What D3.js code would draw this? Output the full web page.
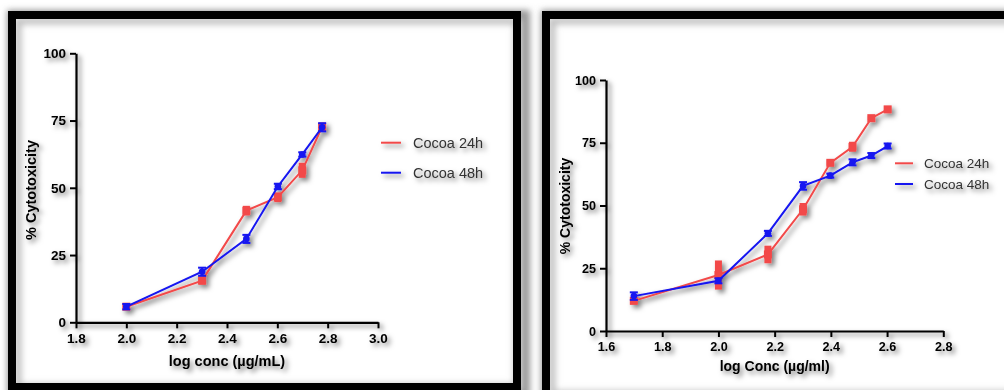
<!DOCTYPE html>
<html><head><meta charset="utf-8">
<script src="https://cdn.jsdelivr.net/npm/d3@7"></script>
<style>body{margin:0;background:#fff}svg{display:block}</style>
</head><body>
<script>
// ---- Data ----
const leftX = [2.0, 2.301, 2.477, 2.602, 2.699, 2.778];
const left24 = [5.8, 15.5, 41.5, 46.5, 56.5, 72.7];
const left24Err = [1.2, 1.5, 1.8, 1.8, 2.8, 1.5];
const left48 = [5.8, 18.8, 31.0, 50.5, 62.4, 72.5];
const left48Err = [1.0, 1.5, 1.5, 1.0, 0.8, 1.5];
const leftXTicks = [1.8, 2.0, 2.2, 2.4, 2.6, 2.8, 3.0];

const rightX = [1.699, 2.0, 2.176, 2.301, 2.398, 2.477, 2.544, 2.602];
const right24 = [12.0, 22.3, 30.5, 48.5, 67.0, 73.4, 84.8, 88.3];
const right24Err = [1.0, 5.8, 3.5, 2.5, 1.0, 2.0, 0.8, 1.3];
const right48 = [13.9, 20.0, 38.9, 57.8, 61.9, 67.2, 69.9, 73.7];
const right48Err = [1.5, 1.0, 1.0, 1.5, 0.8, 1.2, 1.0, 1.0];
const rightXTicks = [1.6, 1.8, 2.0, 2.2, 2.4, 2.6, 2.8];

const yTicks = [0, 25, 50, 75, 100];
const seriesNames = ["Cocoa 24h", "Cocoa 48h"];
const RED = "#f24a4a", BLUE = "#1414f0";

const svg = d3.select("body").append("svg").attr("width", 1004).attr("height", 390);
const defs = svg.append("defs");
const f = defs.append("filter").attr("id", "sh").attr("x", "-20%").attr("y", "-20%").attr("width", "160%").attr("height", "160%");
f.append("feDropShadow").attr("dx", 3).attr("dy", 3).attr("stdDeviation", 2.4).attr("flood-color", "#000").attr("flood-opacity", 0.5);
const fb = defs.append("filter").attr("id", "blur").attr("x", "-10%").attr("y", "-10%").attr("width", "120%").attr("height", "120%");
fb.append("feGaussianBlur").attr("stdDeviation", 3);

// frames
function frame(x0, y0, x1, y1) {
  svg.append("rect").attr("x", x0 + 4).attr("y", y0 + 4).attr("width", x1 - x0).attr("height", y1 - y0)
    .attr("fill", "none").attr("stroke", "#999").attr("stroke-width", 10).attr("filter", "url(#blur)");
  svg.append("rect").attr("x", x0 + 4).attr("y", y0 + 4).attr("width", x1 - x0 - 8).attr("height", y1 - y0 - 8)
    .attr("fill", "#fff");
  svg.append("rect").attr("x", x0 + 10).attr("y", y0 + 10).attr("width", x1 - x0 - 14).attr("height", y1 - y0 - 14)
    .attr("fill", "none").attr("stroke", "#c0c0c0").attr("stroke-width", 7).attr("filter", "url(#blur)");
  svg.append("rect").attr("x", x0 + 4).attr("y", y0 + 4).attr("width", x1 - x0 - 8).attr("height", y1 - y0 - 8)
    .attr("fill", "none").attr("stroke", "#000").attr("stroke-width", 8);
}
frame(8, 11, 521, 391);
frame(542, 11, 1040, 398);

function panel(o) {
  const g = svg.append("g");
  const x = d3.scaleLinear().domain([o.xTicks[0], o.xTicks[o.xTicks.length - 1]]).range([o.left, o.right]);
  const y = d3.scaleLinear().domain([0, 100]).range([o.bottom, o.top]);
  const sh = g.append("g").attr("filter", "url(#sh)");

  const xa = sh.append("g").attr("transform", `translate(0,${o.bottom})`)
    .call(d3.axisBottom(x).tickValues(o.xTicks).tickFormat(d3.format(".1f")).tickSize(6).tickSizeOuter(0));
  const ya = sh.append("g").attr("transform", `translate(${o.left},0)`)
    .call(d3.axisLeft(y).tickValues(yTicks).tickSize(6).tickSizeOuter(0));
  [xa, ya].forEach(a => {
    a.select(".domain").attr("stroke", "#000").attr("stroke-width", 2.2);
    a.selectAll(".tick line").attr("stroke", "#000").attr("stroke-width", 2);
    a.selectAll("text").attr("fill", "#000").attr("font-family", "Liberation Sans, Arial, sans-serif")
      .attr("font-weight", "bold").attr("font-size", o.tickFont);
  });
  xa.selectAll("text").attr("dy", "0.9em");
  ya.selectAll("text").attr("dx", "-1px");

  sh.append("text").attr("x", (o.left + o.right) / 2 + o.xTitleDx).attr("y", o.xTitleY)
    .attr("text-anchor", "middle").attr("font-family", "Liberation Sans, Arial, sans-serif")
    .attr("font-weight", "bold").attr("font-size", o.titleFont).text(o.xTitle);
  sh.append("text").attr("transform", `translate(${o.yTitleX},${o.yTitleY}) rotate(-90)`)
    .attr("text-anchor", "middle").attr("font-family", "Liberation Sans, Arial, sans-serif")
    .attr("font-weight", "bold").attr("font-size", o.titleFont).text("% Cytotoxicity");

  const line = d3.line().x(d => x(d[0])).y(d => y(d[1]));
  const d24 = o.xs.map((v, i) => [v, o.s24[i], o.e24[i]]);
  const d48 = o.xs.map((v, i) => [v, o.s48[i], o.e48[i]]);

  sh.append("path").datum(d24).attr("d", line).attr("fill", "none").attr("stroke", RED).attr("stroke-width", 2);
  sh.selectAll(".eb24").data(d24).join("rect")
    .attr("x", d => x(d[0]) - 3.5).attr("width", 7)
    .attr("y", d => y(d[1] + d[2])).attr("height", d => y(d[1] - d[2]) - y(d[1] + d[2]))
    .attr("fill", RED);
  sh.selectAll(".sq24").data(d24).join("rect")
    .attr("x", d => x(d[0]) - 4).attr("y", d => y(d[1]) - 4).attr("width", 8).attr("height", 8).attr("fill", RED);

  sh.append("path").datum(d48).attr("d", line).attr("fill", "none").attr("stroke", BLUE).attr("stroke-width", 2);
  const eb = sh.selectAll(".eb48").data(d48).join("g");
  eb.append("line").attr("x1", d => x(d[0])).attr("x2", d => x(d[0]))
    .attr("y1", d => y(d[1] + d[2])).attr("y2", d => y(d[1] - d[2])).attr("stroke", BLUE).attr("stroke-width", 2);
  eb.append("line").attr("x1", d => x(d[0]) - 4).attr("x2", d => x(d[0]) + 4)
    .attr("y1", d => y(d[1] + d[2])).attr("y2", d => y(d[1] + d[2])).attr("stroke", BLUE).attr("stroke-width", 2);
  eb.append("line").attr("x1", d => x(d[0]) - 4).attr("x2", d => x(d[0]) + 4)
    .attr("y1", d => y(d[1] - d[2])).attr("y2", d => y(d[1] - d[2])).attr("stroke", BLUE).attr("stroke-width", 2);
  eb.append("circle").attr("cx", d => x(d[0])).attr("cy", d => y(d[1])).attr("r", 3.3).attr("fill", BLUE);

  const lg = g.append("g").attr("filter", "url(#sh)");
  seriesNames.forEach((n, i) => {
    const yy = o.legY + i * o.legGap;
    lg.append("line").attr("x1", o.legX).attr("x2", o.legX + o.legLen).attr("y1", yy).attr("y2", yy)
      .attr("stroke", i === 0 ? RED : BLUE).attr("stroke-width", 2);
    lg.append("text").attr("x", o.legTextX).attr("y", yy).attr("dy", "0.35em")
      .attr("font-family", "Liberation Sans, Arial, sans-serif").attr("font-size", o.legFont)
      .attr("fill", "#333").text(n);
  });
}

panel({
  left: 76, right: 378, top: 53.3, bottom: 322.3, xTicks: leftXTicks,
  xs: leftX, s24: left24, e24: left24Err, s48: left48, e48: left48Err,
  tickFont: 13.5, titleFont: 14.5, xTitle: "log conc (µg/mL)", xTitleY: 366, xTitleDx: 0,
  yTitleX: 36, yTitleY: 190,
  legX: 381, legLen: 20, legY: 142.7, legGap: 30, legTextX: 413, legFont: 14.5
});
panel({
  left: 606, right: 943.3, top: 80, bottom: 331, xTicks: rightXTicks,
  xs: rightX, s24: right24, e24: right24Err, s48: right48, e48: right48Err,
  tickFont: 12.6, titleFont: 14, xTitle: "log Conc (µg/ml)", xTitleY: 370.5, xTitleDx: 0,
  yTitleX: 570, yTitleY: 206,
  legX: 895, legLen: 18, legY: 163.3, legGap: 20.7, legTextX: 924, legFont: 13.5
});
</script>
</body></html>
